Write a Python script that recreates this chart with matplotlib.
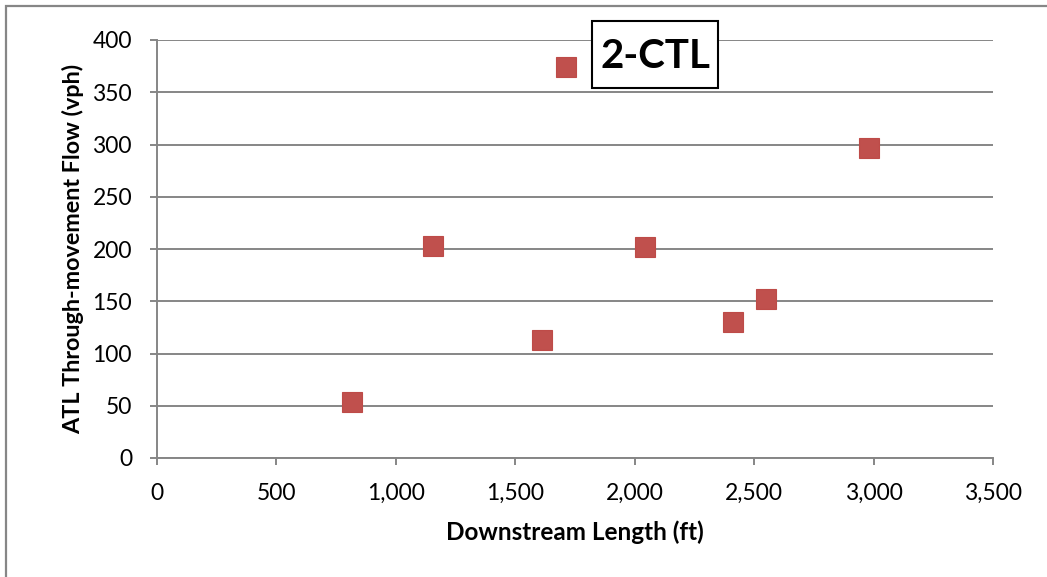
import matplotlib
matplotlib.use("Agg")
import matplotlib.pyplot as plt
from matplotlib.patches import Rectangle
from matplotlib.ticker import FuncFormatter

plt.rcParams['font.family'] = ['Lato', 'DejaVu Sans']

# downstream length (ft) vs ATL through-movement flow (vph)
length_ft = [816, 1155, 1612, 1712, 2043, 2411, 2550, 2981]
flow_vph = [54, 203, 113, 374, 202, 130, 152, 297]

x_ticks = [0, 500, 1000, 1500, 2000, 2500, 3000, 3500]
y_ticks = [0, 50, 100, 150, 200, 250, 300, 350, 400]

grey = '#868686'
W, H = 1047, 577

fig = plt.figure(figsize=(W / 100, H / 100), dpi=100)
ax = fig.add_axes([157 / W, 1 - 458 / H, 836 / W, 418 / H])

# chart frame (only top/left edges fall inside the image)
fig.patches.append(Rectangle((5.5 / W, -0.1), 1.2, 1.1 - 5.5 / H,
                             transform=fig.transFigure, fill=False,
                             edgecolor=grey, linewidth=1.6, zorder=0))

ax.set_xlim(0, 3500)
ax.set_ylim(0, 400)
ax.set_xticks(x_ticks)
ax.set_yticks(y_ticks)
ax.xaxis.set_major_formatter(FuncFormatter(lambda v, p: f"{int(v):,}"))

ax.yaxis.grid(True, color=grey, linewidth=1.4)
ax.set_axisbelow(True)
for s in ['top', 'right']:
    ax.spines[s].set_visible(False)
for s in ['left', 'bottom']:
    ax.spines[s].set_color(grey)
    ax.spines[s].set_linewidth(1.4)
ax.tick_params(axis='both', direction='out', length=5, width=1.4,
               color=grey, labelsize=16.5, labelcolor='black')
ax.tick_params(axis='x', pad=13)
ax.tick_params(axis='y', pad=13)

ax.plot(length_ft, flow_vph, linestyle='none', marker='s', markersize=14.5,
        markerfacecolor='#C0504D', markeredgecolor='#BE4B48',
        markeredgewidth=0.8, zorder=3, clip_on=False)

ax.set_xlabel("Downstream Length (ft)", fontsize=17.5, fontweight='bold', labelpad=12)
ax.set_ylabel("ATL Through-movement Flow (vph)", fontsize=16.8, fontweight='bold', labelpad=6)

# title box
fig.patches.append(Rectangle((592 / W, 1 - 88 / H), 126 / W, 67 / H,
                             transform=fig.transFigure, facecolor='white',
                             edgecolor='black', linewidth=1.5, zorder=4))
fig.text(655 / W, 1 - 57 / H, "2-CTL", fontsize=29, fontweight='bold',
         ha='center', va='center', zorder=5)

fig.savefig("out.png", dpi=100)
